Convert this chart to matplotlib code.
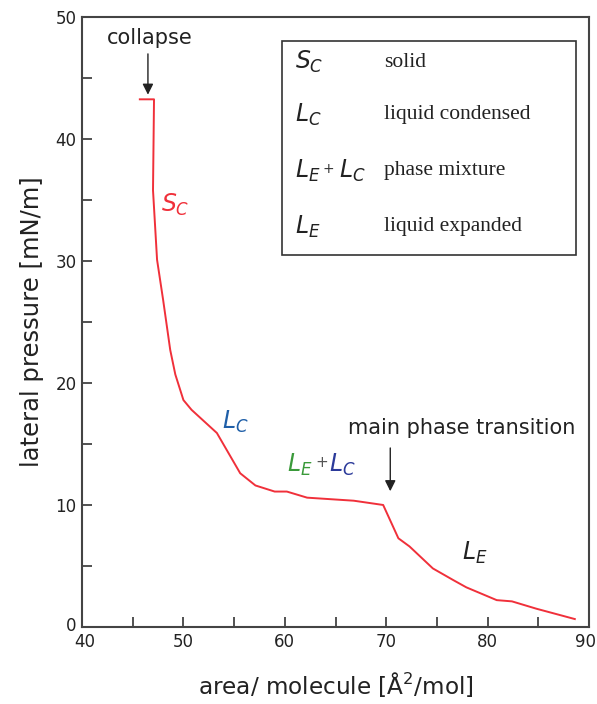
import matplotlib
matplotlib.use("Agg")
import matplotlib.pyplot as plt
import matplotlib.transforms as mtransforms
from matplotlib.patches import Rectangle

plt.rcParams['font.family'] = ['DejaVu Sans']
plt.rcParams['mathtext.fontset'] = 'dejavusans'

area = [45.7, 47.1, 47.0, 47.4, 48.0, 48.7, 49.2, 50.0, 50.8, 53.3, 55.6, 57.1, 59.0, 60.2,
        62.2, 66.8, 69.7, 71.2, 72.3, 74.6, 76.6, 77.9, 80.9, 82.4, 84.8, 88.6]
pressure = [43.25, 43.25, 35.8, 30.1, 26.8, 22.7, 20.7, 18.6, 17.8, 15.9, 12.6, 11.6, 11.1, 11.1,
            10.6, 10.35, 10.0, 7.27, 6.6, 4.8, 3.85, 3.25, 2.2, 2.1, 1.5, 0.65]

x_ticks = [40, 50, 60, 70, 80, 90]
y_ticks = [0, 10, 20, 30, 40, 50]

legend_symbols = [r'$S_C$', r'$L_C$', None, r'$L_E$']
legend_texts = ['solid', 'liquid condensed', 'phase mixture', 'liquid expanded']

fig = plt.figure(figsize=(5.97, 7.04), dpi=100)
ax = fig.add_axes([0.1374, 0.1094, 0.8492, 0.8665])
ax.plot(area, pressure, color='#f0303a', lw=1.4)
ax.set_xlim(40, 90)
ax.set_ylim(0, 50)
ax.set_xticks(x_ticks)
ax.set_yticks(y_ticks)
ax.set_xticks(range(45, 90, 10), minor=True)
ax.set_yticks(range(5, 50, 5), minor=True)
ax.tick_params(which='both', direction='in', color='#333333', labelsize=12, pad=4,
               labelcolor='#222222')
ax.tick_params(which='major', length=7, width=1.2)
ax.tick_params(which='minor', length=7, width=1.2)
for s in ax.spines.values():
    s.set_color('#444444')
    s.set_linewidth(1.5)
ax.set_xlabel('area/ molecule [Å$^2$/mol]', fontsize=16.7, color='#222222', labelpad=14)
ax.set_ylabel('lateral pressure [mN/m]', fontsize=17.5, color='#222222', labelpad=8)

# nudge edge tick labels inward like the reference
fig.canvas.draw()
xlabels = ax.get_xticklabels()
xlabels[0].set_transform(xlabels[0].get_transform() +
                         mtransforms.ScaledTranslation(3 / 100, 0, fig.dpi_scale_trans))
xlabels[-1].set_transform(xlabels[-1].get_transform() +
                          mtransforms.ScaledTranslation(-4 / 100, 0, fig.dpi_scale_trans))
ylabels = ax.get_yticklabels()
ylabels[0].set_transform(ylabels[0].get_transform() +
                         mtransforms.ScaledTranslation(0, 3 / 100, fig.dpi_scale_trans))

# annotations
ax.text(46.7, 48.3, 'collapse', fontsize=15, ha='center', va='center', color='#222222')
ax.annotate('', xy=(46.5, 43.4), xytext=(46.5, 47.2),
            arrowprops=dict(arrowstyle='-|>', color='#222222', lw=1.0, mutation_scale=16))
ax.text(49.2, 34.6, r'$S_C$', fontsize=17, color='#f0303a', ha='center', va='center')
ax.text(55.1, 16.8, r'$L_C$', fontsize=17, color='#1f5fa8', ha='center', va='center')
ax.text(61.5, 13.3, r'$L_E$', fontsize=17, color='#3a9a3a', ha='center', va='center')
ax.text(63.6, 13.5, '+', fontsize=11, color='#555555', ha='center', va='center')
ax.text(65.7, 13.3, r'$L_C$', fontsize=17, color='#2b3a9a', ha='center', va='center')
ax.text(77.4, 16.3, 'main phase transition', fontsize=15, ha='center', va='center', color='#222222')
ax.annotate('', xy=(70.4, 10.9), xytext=(70.4, 14.9),
            arrowprops=dict(arrowstyle='-|>', color='#222222', lw=1.0, mutation_scale=16))
ax.text(78.7, 6.1, r'$L_E$', fontsize=17, color='#222222', ha='center', va='center')

# legend box
ax.add_patch(Rectangle((59.7, 30.5), 29.0, 17.5, fill=False, ec='#333333', lw=1.2))
rows_y = [46.3, 42.0, 37.4, 32.8]
for sym, txt, yy in zip(legend_symbols, legend_texts, rows_y):
    if sym is None:
        ax.text(61.0, yy, r'$L_E$', fontsize=17, color='#222222', ha='left', va='center')
        ax.text(64.3, yy + 0.15, '+', fontsize=10, color='#333333', ha='center', va='center')
        ax.text(65.3, yy, r'$L_C$', fontsize=17, color='#222222', ha='left', va='center')
    else:
        ax.text(61.0, yy, sym, fontsize=17, color='#222222', ha='left', va='center')
    ax.text(69.8, yy, txt, fontsize=15.5, color='#222222', ha='left', va='center',
            family='Liberation Serif')

fig.savefig('out.png', dpi=100)
